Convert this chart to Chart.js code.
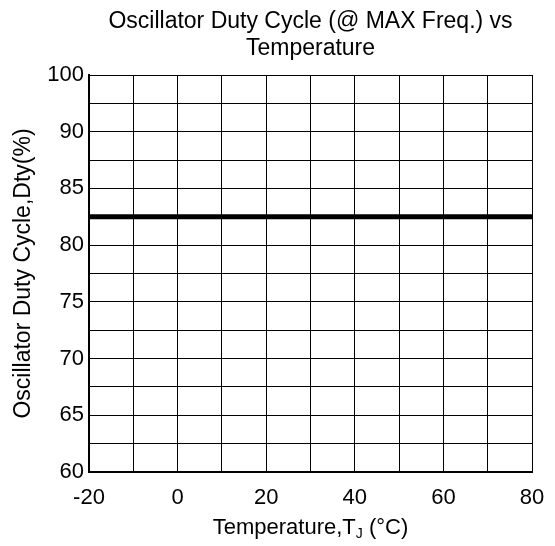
<!DOCTYPE html>
<html>
<head>
<meta charset="utf-8">
<script src="https://cdn.jsdelivr.net/npm/chart.js@4"></script>
<style>
html,body{margin:0;padding:0;background:#fff;}
#wrap{width:555px;height:546px;}
</style>
</head>
<body>
<div id="wrap"><canvas id="dutyChart" width="555" height="546"></canvas></div>
<script>
// values
const temps=[-20,80];
const duty=[82.5,82.5];
const xTickLabels=['-20','0','20','40','60','80'];
const yTickValues=[60,65,70,75,80,85,90,95];
const yTickLabels=['60','65','70','75','80','85','90','100'];
const titleLines=['Oscillator Duty Cycle (@ MAX Freq.) vs','Temperature'];
const yTitle='Oscillator Duty Cycle,Dty(%)';

const FONT='"Liberation Sans", Arial, sans-serif';

// titles drawn by hand: main title centred on the plot, x title with subscript J
const titlesPlugin={
id:'titles',
afterDraw(chart){
const c=chart.ctx;
const area=chart.chartArea;
const cx=(area.left+area.right)/2;
c.save();
c.fillStyle='#000';
c.textBaseline='alphabetic';

c.textAlign='center';
c.font='23px '+FONT;
c.fillText(titleLines[0],cx,28);
c.fillText(titleLines[1],cx,55);

c.textAlign='left';
const a='Temperature,T',sub='J',b=' (°C)';
c.font='22px '+FONT;
const wa=c.measureText(a).width,wb=c.measureText(b).width;
c.font='14px '+FONT;
const ws=c.measureText(sub).width;
let x=cx-(wa+ws+wb)/2;
const y=534;
c.font='22px '+FONT;
c.fillText(a,x,y);
x+=wa;
c.font='14px '+FONT;
c.fillText(sub,x,y+4);
x+=ws;
c.font='22px '+FONT;
c.fillText(b,x,y);

c.translate(30,(area.top+area.bottom)/2);
c.rotate(-Math.PI/2);
c.textAlign='center';
c.font='23px '+FONT;
c.fillText(yTitle,0,0);
c.restore();
}
};

const ctx=document.getElementById('dutyChart');

new Chart(ctx,{
type:'line',
data:{
datasets:[{
data:temps.map((t,i)=>({x:t,y:duty[i]})),
borderColor:'#000',
borderWidth:5,
pointRadius:0,
clip:false,
fill:false
}]
},
options:{
responsive:false,
animation:false,
layout:{padding:{left:0,right:23,top:75,bottom:0}},
plugins:{
legend:{display:false},
tooltip:{enabled:false},
title:{display:false}
},
scales:{
x:{
type:'linear',
min:-20,
max:80,
afterFit:s=>{s.height=74;s.paddingLeft=0;s.paddingRight=0;},
ticks:{
stepSize:10,
color:'#000',
font:{family:FONT,size:22},
padding:13,
maxRotation:0,
autoSkip:false,
callback:v=>{
const s=String(v);
return xTickLabels.includes(s)?s:'';
}
},
grid:{color:'#000',lineWidth:1,drawTicks:false},
border:{color:'#000',width:2}
},
y:{
type:'linear',
min:60,
max:95,
afterFit:s=>{s.width=89;s.paddingTop=0;s.paddingBottom=0;},
ticks:{
stepSize:2.5,
color:'#000',
font:{family:FONT,size:22},
padding:5,
autoSkip:false,
callback:v=>{
const i=yTickValues.indexOf(v);
return i>=0?yTickLabels[i]:'';
}
},
grid:{color:'#000',lineWidth:1,drawTicks:false},
border:{color:'#000',width:2}
}
}
},
plugins:[titlesPlugin]
});
</script>
</body>
</html>
